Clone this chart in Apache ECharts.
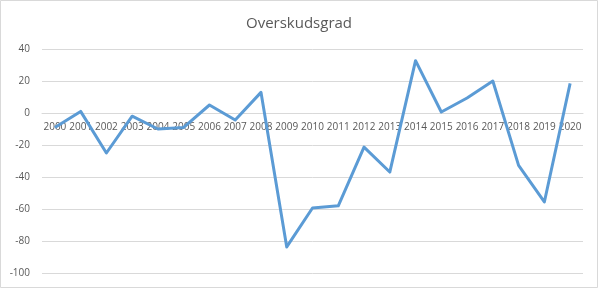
<!DOCTYPE html>
<html><head><meta charset="utf-8">
<script src="https://cdn.jsdelivr.net/npm/echarts@6/dist/echarts.min.js"></script>
<style>html,body{margin:0;padding:0;background:#fff}#c{width:598px;height:288px}</style>
</head><body><div id="c"></div>
<script>
const titleText = 'Overskudsgrad';
const years = ['2000','2001','2002','2003','2004','2005','2006','2007','2008','2009','2010','2011','2012','2013','2014','2015','2016','2017','2018','2019','2020'];
const values = [-9, 1, -25, -2, -10, -9, 5, -4.4, 12.9, -83.7, -59.4, -58, -21.3, -36.9, 32.7, 0.6, 9.4, 20, -32.7, -55.6, 18.5];
const yMin = -100, yMax = 40, yStep = 20;

const chart = echarts.init(document.getElementById('c'), null, {renderer:'canvas'});
const gridTop = 49, gridBottom = 15, H = 288;
const plotH = H - gridTop - gridBottom;
const zeroOffset = -plotH * (0 - yMin) / (yMax - yMin);
chart.setOption({
  animation:false,
  backgroundColor:'#fff',
  title:{text:titleText,left:'center',top:11,textStyle:{fontFamily:'Open Sans',fontSize:15,fontWeight:'normal',color:'#595959'}},
  grid:{left:42,right:15,top:gridTop,bottom:gridBottom,containLabel:false},
  graphic:[{type:'rect',shape:{x:0.5,y:0.5,width:597,height:287},style:{fill:'none',stroke:'#d9d9d9',lineWidth:1},silent:true}],
  xAxis:{type:'category',data:years,boundaryGap:true,position:'bottom',offset:zeroOffset,
    axisLine:{onZero:false,lineStyle:{color:'#d9d9d9'}},axisTick:{show:false},
    axisLabel:{color:'#595959',fontFamily:'Open Sans',fontSize:10,margin:9,interval:0}},
  yAxis:{type:'value',min:yMin,max:yMax,interval:yStep,
    axisLine:{show:false},axisTick:{show:false},
    splitLine:{lineStyle:{color:'#d9d9d9'}},
    axisLabel:{color:'#595959',fontFamily:'Open Sans',fontSize:10,margin:12}},
  series:[{type:'line',data:values,showSymbol:false,symbol:'none',z:3,lineStyle:{color:'#5b9bd5',width:3,join:'round'},itemStyle:{color:'#5b9bd5'}}]
});
</script></body></html>
